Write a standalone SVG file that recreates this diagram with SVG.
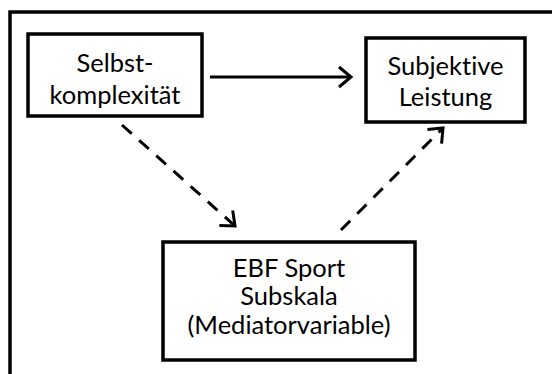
<svg xmlns="http://www.w3.org/2000/svg" width="552" height="374" viewBox="0 0 552 374">
  <style>
    .box { fill: #fff; stroke: #000; stroke-width: 3.5; }
    .label { font-family: Lato, "Open Sans", sans-serif; font-size: 25.5px; fill: #000; text-anchor: middle; font-variant-ligatures: none; }
    .edge { fill: none; stroke: #000; stroke-width: 3; }
    .dashed { stroke-dasharray: 13 10; }
  </style>
  <defs>
    <marker id="chevron" markerUnits="userSpaceOnUse" markerWidth="30" markerHeight="30" viewBox="-16 -15 20 30" refX="0" refY="0" orient="auto">
      <path d="M-12,-10 L0,0 L-12,10" fill="none" stroke="#000" stroke-width="3" stroke-linejoin="miter"/>
    </marker>
  </defs>

  <rect width="552" height="374" fill="#fff"/>
  <!-- outer frame, open past the right and bottom edges -->
  <rect x="10" y="12" width="560" height="380" fill="none" stroke="#000" stroke-width="3.5"/>

  <g id="edges">
    <line class="edge" x1="210" y1="77" x2="351" y2="77" marker-end="url(#chevron)"/>
    <line class="edge dashed" x1="122" y1="125" x2="235" y2="226" marker-end="url(#chevron)"/>
    <line class="edge dashed" x1="341" y1="230" x2="443" y2="128" marker-end="url(#chevron)"/>
  </g>

  <g id="selbstkomplexitaet">
    <rect class="box" x="28" y="34" width="174" height="82"/>
    <text class="label" x="115" y="72">Selbst-</text>
    <text class="label" x="115" y="104">komplexität</text>
  </g>

  <g id="subjektive-leistung">
    <rect class="box" x="366" y="38" width="159" height="84"/>
    <text class="label" x="445.5" y="75">Subjektive</text>
    <text class="label" x="445.5" y="106">Leistung</text>
  </g>

  <g id="ebf-sport">
    <rect class="box" x="163" y="242" width="252" height="118"/>
    <text class="label" x="289" y="277">EBF Sport</text>
    <text class="label" x="289" y="305">Subskala</text>
    <text class="label" x="289" y="334">(Mediatorvariable)</text>
  </g>
</svg>
